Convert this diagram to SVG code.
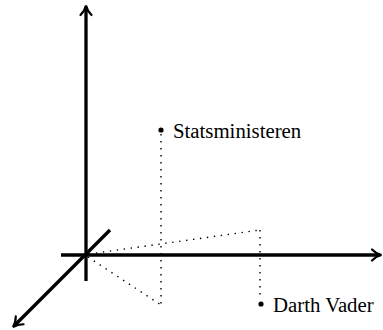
<svg xmlns="http://www.w3.org/2000/svg" width="383" height="330" viewBox="0 0 383 330">
  <style>
    .axis { stroke: #000; stroke-width: 3.3; fill: none; }
    .proj { stroke: #000; stroke-width: 1.4; fill: none; stroke-dasharray: 1.4 5.6; }
    .lbl { font-family: "Liberation Serif", "Times New Roman", serif; font-size: 20.8px; fill: #000; }
    .dot { fill: #000; }
  </style>
  <defs>
    <marker id="tip" markerUnits="userSpaceOnUse" viewBox="-10 -7 13 14" refX="0" refY="0" markerWidth="13" markerHeight="14" orient="auto" overflow="visible">
      <path d="M -8 -5.5 C -5 -2.5 -2 -0.8 1.5 0 C -2 0.8 -5 2.5 -8 5.5" stroke="#000" stroke-width="2.2" fill="none" stroke-linecap="round"/>
    </marker>
  </defs>
  <g id="connectors">
    <g id="axes">
      <line class="axis" x1="86" y1="281" x2="86" y2="7" marker-end="url(#tip)"/>
      <line class="axis" x1="61" y1="255" x2="380" y2="255" marker-end="url(#tip)"/>
      <line class="axis" x1="110" y1="230" x2="14" y2="326" marker-end="url(#tip)"/>
    </g>
    <g id="projections">
      <line class="proj" x1="161" y1="134" x2="161" y2="306"/>
      <line class="proj" x1="88" y1="257" x2="161" y2="305"/>
      <line class="proj" x1="89" y1="254" x2="260" y2="230"/>
      <line class="proj" x1="260" y1="230" x2="260" y2="300"/>
    </g>
  </g>
  <g id="statsministeren">
    <circle class="dot" cx="161" cy="130" r="2.6"/>
    <text class="lbl" x="173" y="137.5">Statsministeren</text>
  </g>
  <g id="darth-vader">
    <circle class="dot" cx="261" cy="304" r="2.6"/>
    <text class="lbl" x="273" y="311.5">Darth Vader</text>
  </g>
</svg>
